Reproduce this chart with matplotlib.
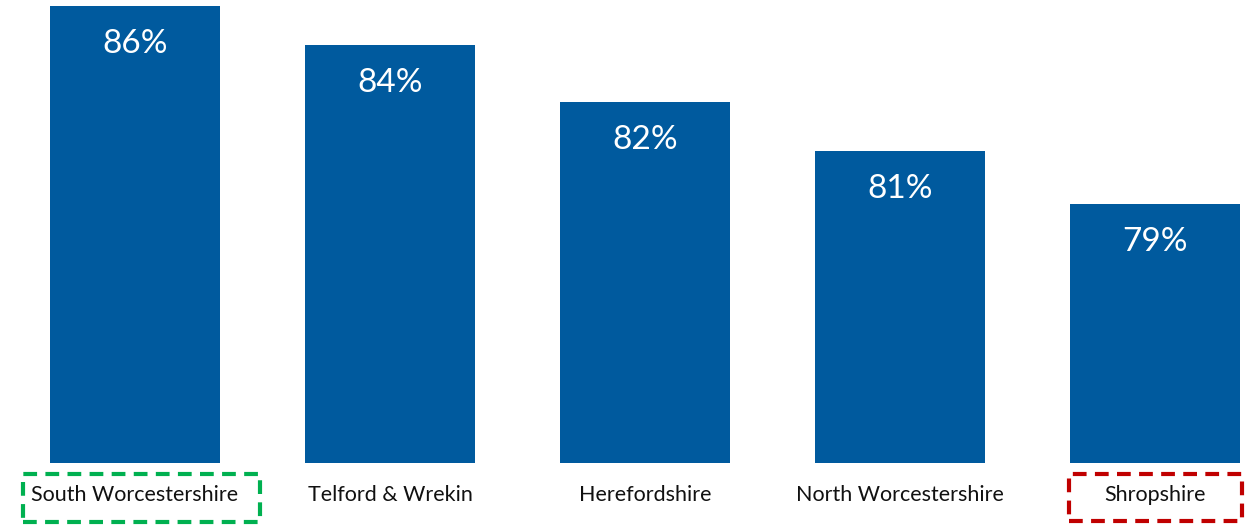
import matplotlib
matplotlib.use("Agg")
import matplotlib.pyplot as plt
from matplotlib.patches import Rectangle

categories = ["South Worcestershire", "Telford & Wrekin", "Herefordshire",
              "North Worcestershire", "Shropshire"]
values = [85.76, 84.41, 82.45, 80.76, 78.93]
labels = ["86%", "84%", "82%", "81%", "79%"]

plt.rcParams['font.family'] = ['Lato', 'DejaVu Sans']

W, H = 1255, 526
fig = plt.figure(figsize=(W / 100, H / 100), dpi=100)
# axes spans pixel x 0..1255, y 0..463 from top
ax = fig.add_axes([0, (H - 463) / H, 1, 463 / H])
bar_color = "#005A9E"
x = list(range(len(categories)))
ax.bar(x, values, width=170 / 255, color=bar_color, bottom=0)
ax.set_xlim(-135 / 255, (W - 135) / 255)
ax.set_ylim(70, 70 + 463 / 29)
for xi, v, lab in zip(x, values, labels):
    ax.text(xi, v - 38 / 29, lab, ha="center", va="center", color="white",
            fontsize=24)
for s in ax.spines.values():
    s.set_visible(False)
ax.set_xticks(x)
ax.set_xticklabels(categories, fontsize=15.5, color="#111111")
ax.tick_params(axis="x", length=0, pad=16)
ax.set_yticks([])

def box(x0, y0, x1, y1, color):
    r = Rectangle((x0 / W, 1 - y1 / H), (x1 - x0) / W, (y1 - y0) / H,
                  transform=fig.transFigure, fill=False, edgecolor=color,
                  linewidth=3, linestyle=(0, (3.3, 2)), clip_on=False)
    fig.patches.append(r)

box(23, 474, 260, 522, "#00B050")
box(1069, 474, 1242, 521, "#C00000")

fig.savefig("out.png", dpi=100)
